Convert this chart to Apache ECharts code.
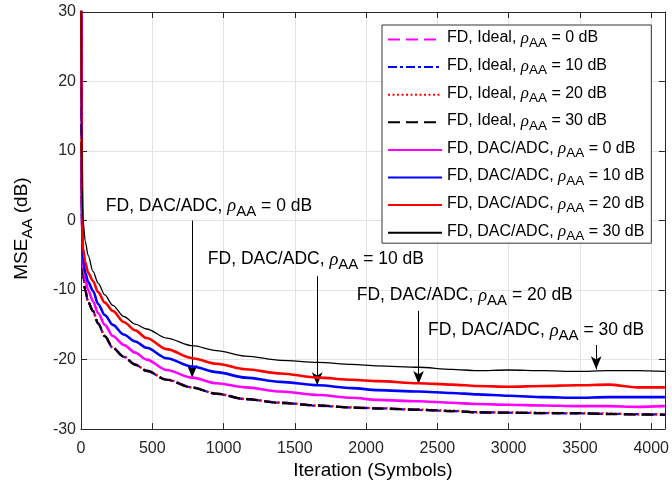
<!DOCTYPE html>
<html><head><meta charset="utf-8">
<script src="https://cdn.jsdelivr.net/npm/echarts@6/dist/echarts.min.js"></script>
<style>html,body{margin:0;padding:0;background:#fff}#c{width:672px;height:485px}</style>
</head><body><div id="c"></div>
<script>
const iterations = [0, 4, 8, 14, 30, 50, 84, 120, 167, 223, 300, 380, 460, 600, 780, 950, 1156, 1400, 1664, 1900, 2082, 2368, 2600, 2778, 3000, 3245, 3475, 3700, 3900, 4096];
const ideal0  = [45, 8, -2, -7.8, -10, -11.7, -13, -14.8, -16.6, -18.3, -19.6, -20.7, -21.6, -22.9, -24, -24.9, -25.7, -26.2, -26.6, -26.9, -27, -27.2, -27.4, -27.6, -27.6, -27.7, -27.7, -27.8, -27.9, -27.9];
const ideal10 = [45, 8, -2, -7.8, -10, -11.7, -13.05, -14.8, -16.6, -18.35, -19.6, -20.7, -21.65, -22.9, -24, -24.95, -25.7, -26.2, -26.65, -26.9, -27, -27.25, -27.4, -27.55, -27.65, -27.7, -27.75, -27.8, -27.85, -27.9];
const ideal20 = [45, 8, -2, -7.7, -10, -11.7, -13, -14.75, -16.6, -18.3, -19.55, -20.7, -21.6, -22.85, -24, -24.9, -25.65, -26.2, -26.6, -26.85, -27, -27.2, -27.35, -27.6, -27.6, -27.65, -27.7, -27.75, -27.9, -27.85];
const ideal30 = [45, 8, -2, -7.8, -10.05, -11.75, -13, -14.8, -16.65, -18.3, -19.6, -20.75, -21.6, -22.9, -24.05, -24.9, -25.7, -26.25, -26.6, -26.9, -27.05, -27.2, -27.4, -27.6, -27.65, -27.7, -27.7, -27.85, -27.9, -27.95];
const dac0  = [45, 9, -1, -6.4, -8.5, -10, -11.6, -13.3, -15, -16.6, -17.9, -19, -20, -21.5, -22.6, -23.4, -24, -24.6, -25.1, -25.5, -25.8, -26, -26.2, -26.4, -26.5, -26.6, -26.7, -26.7, -26.8, -26.7];
const dac10 = [45, 10, 0, -5.4, -7.5, -8.8, -10.1, -12, -13.6, -15, -16.4, -17.4, -18.3, -19.8, -21, -21.8, -22.6, -23.2, -23.7, -24.1, -24.4, -24.6, -24.8, -25, -25.2, -25.4, -25.5, -25.4, -25.4, -25.4];
const dac20 = [45, 12, 2, -4, -6, -7.5, -8.7, -10.3, -11.8, -13, -14.6, -15.8, -16.9, -18.5, -19.8, -20.6, -21.4, -22, -22.6, -22.9, -23.1, -23.4, -23.6, -23.8, -23.9, -23.8, -23.7, -23.6, -24.0, -24.0];
const dac30 = [45, 15, 5, 0, -3, -5, -7.3, -9, -10.7, -12.2, -13.8, -14.9, -15.6, -16.9, -18, -18.7, -19.5, -20.1, -20.4, -20.7, -20.9, -21.1, -21.4, -21.6, -21.5, -21.6, -21.7, -21.6, -21.6, -21.7];
const seriesNames = [
  'FD, Ideal, ρAA = 0 dB', 'FD, Ideal, ρAA = 10 dB', 'FD, Ideal, ρAA = 20 dB', 'FD, Ideal, ρAA = 30 dB',
  'FD, DAC/ADC, ρAA = 0 dB', 'FD, DAC/ADC, ρAA = 10 dB', 'FD, DAC/ADC, ρAA = 20 dB', 'FD, DAC/ADC, ρAA = 30 dB'
];
const xTicks = [0, 500, 1000, 1500, 2000, 2500, 3000, 3500, 4000];
const yTicks = [-30, -20, -10, 0, 10, 20, 30];
// annotations: [text, text x (iteration), text y (dB), arrow x, arrow start y, arrow end y]
const annotations = [
  ['FD, DAC/ADC, ρAA = 0 dB', 174, 1.95, 780, 0, -22.6],
  ['FD, DAC/ADC, ρAA = 10 dB', 890, -5.7, 1657, -8, -23.7],
  ['FD, DAC/ADC, ρAA = 20 dB', 1934, -10.9, 2368, -13, -23.5],
  ['FD, DAC/ADC, ρAA = 30 dB', 2435, -15.95, 3614, -17.9, -21.4]
];

const FONT = 'Liberation Sans';
function rich(size, sub, lh, pad) {
  return {
    t: {fontFamily: FONT, fontSize: size, color: '#000', verticalAlign: 'top', lineHeight: lh},
    r: {fontFamily: 'Liberation Serif', fontStyle: 'italic', fontSize: size + 1, color: '#000', verticalAlign: 'top', lineHeight: lh},
    s: {fontFamily: FONT, fontSize: sub, color: '#000', verticalAlign: 'top', padding: [pad, 0, 0, 0], lineHeight: sub + 1}
  };
}
function fmt(name) {
  const p = name.split('ρAA');
  return '{t|' + p[0] + '}{r|ρ}{s|AA}{t|' + p[1] + '}';
}
const colors = ['#ff00ff', '#0000ff', '#ff0000', '#000000', '#ff00ff', '#0000ff', '#ff0000', '#000000'];
const dataSets = [ideal0, ideal10, ideal20, ideal30, dac0, dac10, dac20, dac30];
const lineTypes = [[12, 6], [9, 3, 3, 3], [2, 2.5], [12, 6], 'solid', 'solid', 'solid', 'solid'];
const widths = [2.2, 2.2, 2.2, 2.2, 2.6, 2.6, 2.6, 1.3];

const series = dataSets.map((d, i) => ({
  name: seriesNames[i],
  type: 'line',
  data: iterations.map((x, k) => [x, d[k]]),
  showSymbol: false,
  symbol: 'none',
  smooth: 0.3,
  smoothMonotone: 'x',
  clip: true,
  color: colors[i],
  lineStyle: {color: colors[i], width: widths[i], type: lineTypes[i]},
  z: 2 + i,
  animation: false
}));

series.push({
  name: 'annot',
  type: 'line',
  data: [],
  symbol: 'none',
  animation: false,
  z: 20,
  markLine: {
    silent: true,
    animation: false,
    symbol: ['none', 'arrow'],
    symbolSize: [8, 13],
    lineStyle: {color: '#000', width: 1, type: 'solid'},
    label: {show: false},
    data: annotations.map(a => [{coord: [a[3], a[4]]}, {coord: [a[3], a[5]]}])
  },
  markPoint: {
    silent: true,
    animation: false,
    symbol: 'circle',
    symbolSize: 0,
    label: {show: true, position: [0, 0], align: 'left', verticalAlign: 'middle', rich: rich(17.5, 15, 20, 7), formatter: p => fmt(p.name)},
    data: annotations.map(a => ({name: a[0], coord: [a[1], a[2]]}))
  }
});

const chart = echarts.init(document.getElementById('c'), null, {renderer: 'canvas'});
const axisColor = '#262626';
chart.setOption({
  animation: false,
  backgroundColor: '#fff',
  grid: {left: 81, top: 12, right: 3, bottom: 53, containLabel: false},
  legend: {
    orient: 'vertical',
    left: 382, top: 25,
    padding: [5, 7, 0, 5],
    itemGap: 7.6,
    itemWidth: 54, itemHeight: 14,
    backgroundColor: '#fff',
    borderColor: '#333', borderWidth: 1,
    data: seriesNames,
    formatter: fmt,
    itemStyle: {opacity: 0},
    textStyle: {rich: rich(16, 13.5, 19, 6)},
    selectedMode: false
  },
  xAxis: [{
    type: 'value', min: 0, max: 4096, interval: 500, position: 'bottom',
    name: 'Iteration (Symbols)', nameLocation: 'middle', nameGap: 27,
    nameTextStyle: {fontFamily: FONT, fontSize: 19, color: '#000'},
    axisLine: {show: true, onZero: false, lineStyle: {color: axisColor, width: 1}},
    axisTick: {show: true, inside: true, length: 6, lineStyle: {color: axisColor}},
    axisLabel: {fontFamily: FONT, fontSize: 16, color: axisColor, margin: 11,
      formatter: v => xTicks.indexOf(v) >= 0 ? String(v) : '', showMaxLabel: false},
    splitLine: {show: true, lineStyle: {color: '#e3e3e3', width: 1}}
  }, {
    type: 'value', min: 0, max: 4096, interval: 500, position: 'top',
    axisLine: {show: true, onZero: false, lineStyle: {color: axisColor, width: 1}},
    axisTick: {show: true, inside: true, length: 6, lineStyle: {color: axisColor}},
    axisLabel: {show: false}, splitLine: {show: false}
  }],
  yAxis: [{
    type: 'value', min: -30, max: 30, interval: 10, position: 'left',
    name: '{t|MSE}{s|AA}{t| (dB)}', nameLocation: 'middle', nameGap: 47,
    nameTextStyle: {rich: rich(19, 15, 22, 8), padding: [0, 16, 0, 0]},
    axisLine: {show: true, onZero: false, lineStyle: {color: axisColor, width: 1}},
    axisTick: {show: true, inside: true, length: 6, lineStyle: {color: axisColor}},
    axisLabel: {fontFamily: FONT, fontSize: 16, color: axisColor, margin: 5,
      formatter: v => yTicks.indexOf(v) >= 0 ? String(v) : ''},
    splitLine: {show: true, lineStyle: {color: '#e3e3e3', width: 1}}
  }, {
    type: 'value', min: -30, max: 30, interval: 10, position: 'right',
    axisLine: {show: true, onZero: false, lineStyle: {color: axisColor, width: 1}},
    axisTick: {show: true, inside: true, length: 6, lineStyle: {color: axisColor}},
    axisLabel: {show: false}, splitLine: {show: false}
  }],
  series: series
});
</script>
</body></html>
